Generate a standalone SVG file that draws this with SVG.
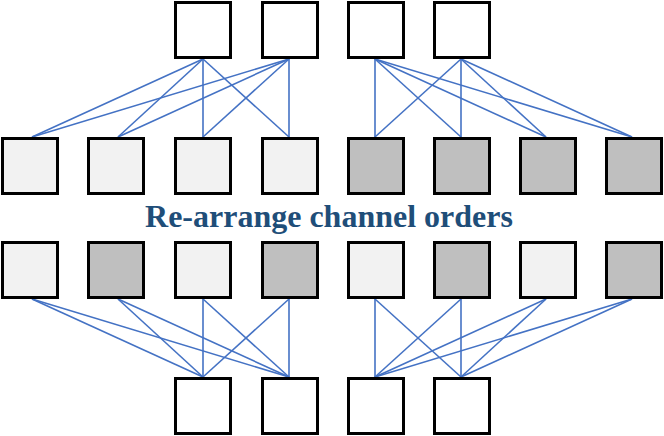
<svg xmlns="http://www.w3.org/2000/svg" width="664" height="436" viewBox="0 0 664 436">
<style>
.b{stroke:#000;stroke-width:3}
.w{fill:#fff}
.l{fill:#f2f2f2}
.d{fill:#bfbfbf}
.c line{stroke:#4472c4;stroke-width:1.6}
.t{font-family:"Liberation Serif",serif;font-weight:bold;font-size:32px;fill:#1f4e79}
</style>
<rect width="664" height="436" fill="#fff"/>
<g class="c" id="connectors">
<line x1="203" y1="59" x2="32" y2="137"/>
<line x1="203" y1="59" x2="118" y2="137"/>
<line x1="203" y1="59" x2="203" y2="137"/>
<line x1="203" y1="59" x2="289" y2="137"/>
<line x1="289" y1="59" x2="32" y2="137"/>
<line x1="289" y1="59" x2="118" y2="137"/>
<line x1="289" y1="59" x2="203" y2="137"/>
<line x1="289" y1="59" x2="289" y2="137"/>
<line x1="375" y1="59" x2="375" y2="137"/>
<line x1="375" y1="59" x2="461" y2="137"/>
<line x1="375" y1="59" x2="546" y2="137"/>
<line x1="375" y1="59" x2="632" y2="137"/>
<line x1="461" y1="59" x2="375" y2="137"/>
<line x1="461" y1="59" x2="461" y2="137"/>
<line x1="461" y1="59" x2="546" y2="137"/>
<line x1="461" y1="59" x2="632" y2="137"/>
<line x1="32" y1="299" x2="203" y2="377"/>
<line x1="118" y1="299" x2="203" y2="377"/>
<line x1="203" y1="299" x2="203" y2="377"/>
<line x1="289" y1="299" x2="203" y2="377"/>
<line x1="32" y1="299" x2="289" y2="377"/>
<line x1="118" y1="299" x2="289" y2="377"/>
<line x1="203" y1="299" x2="289" y2="377"/>
<line x1="289" y1="299" x2="289" y2="377"/>
<line x1="375" y1="299" x2="375" y2="377"/>
<line x1="461" y1="299" x2="375" y2="377"/>
<line x1="546" y1="299" x2="375" y2="377"/>
<line x1="632" y1="299" x2="375" y2="377"/>
<line x1="375" y1="299" x2="461" y2="377"/>
<line x1="461" y1="299" x2="461" y2="377"/>
<line x1="546" y1="299" x2="461" y2="377"/>
<line x1="632" y1="299" x2="461" y2="377"/>
</g>
<g id="top1"><rect class="b w" x="175.5" y="2.5" width="55" height="55"/></g>
<g id="top2"><rect class="b w" x="262.5" y="2.5" width="55" height="55"/></g>
<g id="top3"><rect class="b w" x="348.5" y="2.5" width="55" height="55"/></g>
<g id="top4"><rect class="b w" x="434.5" y="2.5" width="55" height="55"/></g>
<g id="a1"><rect class="b l" x="2.5" y="138.5" width="55" height="55"/></g>
<g id="a2"><rect class="b l" x="88.5" y="138.5" width="55" height="55"/></g>
<g id="a3"><rect class="b l" x="175.5" y="138.5" width="55" height="55"/></g>
<g id="a4"><rect class="b l" x="262.5" y="138.5" width="55" height="55"/></g>
<g id="a5"><rect class="b d" x="348.5" y="138.5" width="55" height="55"/></g>
<g id="a6"><rect class="b d" x="434.5" y="138.5" width="55" height="55"/></g>
<g id="a7"><rect class="b d" x="520.5" y="138.5" width="55" height="55"/></g>
<g id="a8"><rect class="b d" x="606.5" y="138.5" width="55" height="55"/></g>
<g id="label"><text class="t" x="329" y="227" text-anchor="middle">Re-arrange channel orders</text></g>
<g id="b1"><rect class="b l" x="2.5" y="242.5" width="55" height="55"/></g>
<g id="b2"><rect class="b d" x="88.5" y="242.5" width="55" height="55"/></g>
<g id="b3"><rect class="b l" x="175.5" y="242.5" width="55" height="55"/></g>
<g id="b4"><rect class="b d" x="262.5" y="242.5" width="55" height="55"/></g>
<g id="b5"><rect class="b l" x="348.5" y="242.5" width="55" height="55"/></g>
<g id="b6"><rect class="b d" x="434.5" y="242.5" width="55" height="55"/></g>
<g id="b7"><rect class="b l" x="520.5" y="242.5" width="55" height="55"/></g>
<g id="b8"><rect class="b d" x="606.5" y="242.5" width="55" height="55"/></g>
<g id="bot1"><rect class="b w" x="175.5" y="378.5" width="55" height="55"/></g>
<g id="bot2"><rect class="b w" x="262.5" y="378.5" width="55" height="55"/></g>
<g id="bot3"><rect class="b w" x="348.5" y="378.5" width="55" height="55"/></g>
<g id="bot4"><rect class="b w" x="434.5" y="378.5" width="55" height="55"/></g>
</svg>
